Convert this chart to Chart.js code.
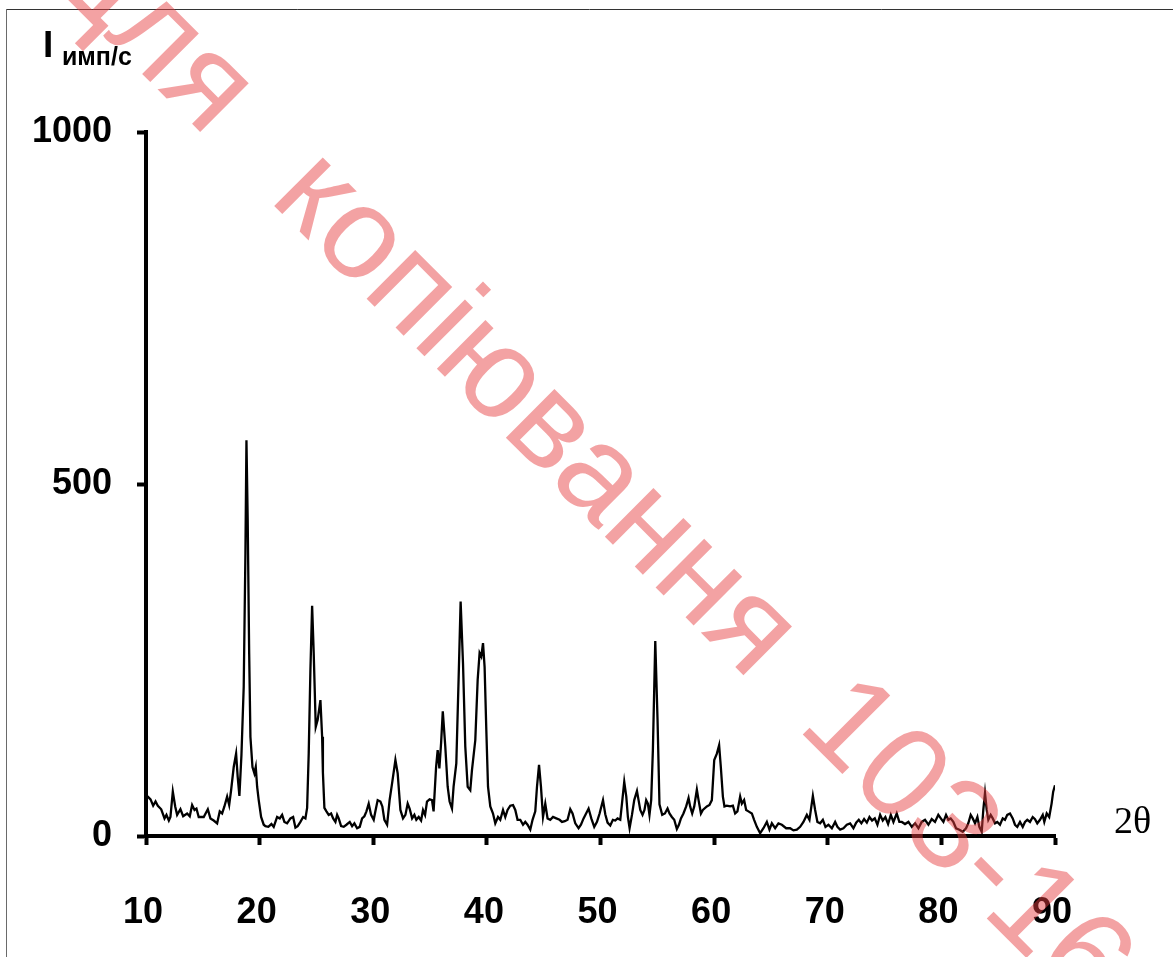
<!DOCTYPE html>
<html>
<head>
<meta charset="utf-8">
<script src="https://cdn.jsdelivr.net/npm/chart.js@4.4.1/dist/chart.umd.min.js"></script>
<style>
  html, body { margin: 0; padding: 0; background: #fff; }
  #wrap { width: 1173px; height: 957px; position: relative; }
</style>
</head>
<body>
<div id="wrap"><canvas id="xrd" width="1173" height="957"></canvas></div>
<script>
// Diffraction angle 2θ, degrees
const twoTheta = [
  10.00, 10.16, 10.40, 10.63, 10.84, 11.04, 11.34, 11.63, 11.80, 12.01, 12.15, 12.36, 12.57, 12.74, 13.03, 13.27,
  13.62, 13.85, 14.06, 14.27, 14.44, 14.64, 15.08, 15.44, 15.67, 15.96, 16.26, 16.49, 16.70, 16.90, 17.14, 17.32,
  17.49, 17.72, 17.93, 18.07, 18.22, 18.40, 18.60, 18.75, 18.84, 18.95, 19.08, 19.19, 19.37, 19.54, 19.66, 19.78,
  19.92, 20.13, 20.36, 20.51, 20.77, 21.04, 21.24, 21.54, 21.77, 21.98, 22.18, 22.42, 22.71, 22.95, 23.15, 23.35,
  23.59, 23.83, 24.03, 24.18, 24.32, 24.47, 24.62, 24.76, 24.94, 25.11, 25.35, 25.50, 25.57, 25.70, 25.88, 26.08,
  26.29, 26.47, 26.67, 26.82, 26.96, 27.17, 27.40, 27.64, 27.93, 28.14, 28.34, 28.58, 28.81, 29.02, 29.22, 29.40,
  29.60, 29.81, 30.04, 30.21, 30.39, 30.63, 30.80, 30.98, 31.22, 31.44, 31.66, 31.95, 32.15, 32.39, 32.62, 32.83,
  33.03, 33.20, 33.42, 33.62, 33.79, 34.00, 34.21, 34.38, 34.56, 34.73, 34.96, 35.17, 35.31, 35.53, 35.67, 35.82,
  35.97, 36.12, 36.34, 36.55, 36.72, 36.93, 37.07, 37.31, 37.51, 37.69, 37.90, 38.10, 38.31, 38.54, 38.69, 38.98,
  39.19, 39.36, 39.51, 39.66, 39.80, 39.95, 40.10, 40.30, 40.54, 40.74, 40.98, 41.18, 41.42, 41.62, 41.82, 42.06,
  42.30, 42.50, 42.70, 42.94, 43.18, 43.38, 43.58, 43.82, 44.02, 44.26, 44.41, 44.59, 44.76, 44.94, 45.14, 45.34,
  45.58, 45.82, 46.11, 46.40, 46.61, 46.86, 47.10, 47.34, 47.54, 47.78, 48.07, 48.28, 48.51, 48.95, 49.19, 49.45,
  49.69, 49.92, 50.22, 50.42, 50.62, 50.86, 51.09, 51.30, 51.50, 51.74, 51.89, 52.09, 52.27, 52.41, 52.56, 52.77,
  52.97, 53.21, 53.35, 53.50, 53.70, 53.87, 54.02, 54.17, 54.31, 54.46, 54.61, 54.82, 55.02, 55.19, 55.43, 55.67,
  55.90, 56.07, 56.28, 56.49, 56.72, 56.90, 57.08, 57.30, 57.54, 57.75, 57.89, 58.07, 58.25, 58.48, 58.63, 58.84,
  59.01, 59.36, 59.59, 59.80, 60.01, 60.24, 60.44, 60.59, 60.77, 60.91, 61.12, 61.41, 61.65, 61.85, 62.05, 62.29,
  62.44, 62.64, 62.82, 63.02, 63.32, 63.52, 63.76, 64.05, 64.34, 64.64, 64.87, 65.08, 65.37, 65.66, 65.96, 66.34,
  66.69, 66.98, 67.28, 67.57, 67.86, 68.16, 68.39, 68.69, 68.89, 69.09, 69.33, 69.57, 69.80, 70.06, 70.36, 70.65,
  70.85, 71.09, 71.38, 71.68, 71.97, 72.26, 72.50, 72.73, 72.96, 73.20, 73.44, 73.67, 73.90, 74.14, 74.37, 74.61,
  74.84, 75.07, 75.31, 75.55, 75.78, 76.07, 76.30, 76.52, 76.80, 77.10, 77.40, 77.69, 77.98, 78.27, 78.56, 78.86,
  79.15, 79.44, 79.73, 79.95, 80.18, 80.41, 80.61, 80.82, 81.05, 81.29, 81.58, 81.88, 82.17, 82.37, 82.58, 82.76,
  82.96, 83.17, 83.34, 83.55, 83.69, 83.84, 83.99, 84.13, 84.34, 84.52, 84.72, 84.92, 85.16, 85.40, 85.60, 85.80,
  86.04, 86.28, 86.48, 86.68, 86.92, 87.16, 87.36, 87.56, 87.80, 88.04, 88.24, 88.44, 88.68, 88.92, 89.06, 89.27,
  89.49, 89.70, 89.84, 90.00
];

// Intensity, counts per second
const intensity = [
  58, 56, 52, 43, 49, 43, 38, 25, 30, 22, 27, 63, 42, 30, 38, 28,
  32, 28, 44, 37, 39, 27, 27, 38, 25, 22, 18, 35, 32, 42, 56, 44,
  65, 98, 117, 84, 57, 115, 212, 402, 562, 449, 260, 141, 98, 89, 98, 70,
  51, 27, 16, 14, 13, 17, 13, 27, 25, 30, 20, 18, 25, 27, 12, 14,
  20, 27, 25, 40, 117, 236, 327, 260, 155, 165, 193, 141, 90, 40, 35, 30,
  32, 25, 20, 30, 25, 14, 13, 16, 20, 14, 18, 11, 13, 25, 28, 35,
  46, 30, 23, 37, 51, 49, 42, 23, 16, 51, 75, 108, 89, 37, 25, 30,
  46, 39, 25, 30, 23, 27, 22, 37, 30, 49, 52, 51, 35, 98, 122, 96,
  132, 177, 127, 70, 49, 39, 70, 103, 222, 333, 245, 127, 70, 65, 94, 136,
  222, 260, 255, 274, 240, 151, 70, 42, 32, 18, 27, 23, 37, 27, 37, 43,
  44, 37, 23, 23, 16, 20, 16, 9, 23, 35, 70, 101, 70, 27, 46, 25,
  23, 27, 25, 23, 20, 21, 23, 38, 32, 18, 11, 16, 25, 39, 25, 13,
  20, 32, 51, 31, 19, 15, 23, 22, 25, 23, 46, 77, 56, 27, 11, 30,
  51, 64, 51, 37, 30, 37, 51, 46, 30, 51, 122, 277, 165, 45, 30, 32,
  39, 32, 27, 23, 10, 16, 25, 32, 42, 54, 42, 32, 42, 66, 51, 32,
  37, 42, 44, 51, 108, 117, 129, 98, 56, 42, 43, 42, 43, 32, 35, 56,
  46, 51, 37, 35, 32, 23, 13, 4, 11, 20, 9, 18, 11, 18, 16, 11,
  11, 8, 9, 13, 20, 30, 23, 57, 37, 20, 18, 23, 13, 16, 11, 20,
  13, 9, 11, 16, 18, 11, 19, 23, 18, 24, 19, 27, 22, 25, 16, 30,
  22, 27, 17, 30, 20, 32, 20, 20, 17, 20, 13, 18, 11, 20, 23, 16,
  24, 20, 30, 25, 20, 30, 23, 25, 20, 11, 9, 6, 11, 18, 30, 25,
  18, 27, 13, 6, 37, 61, 37, 23, 30, 25, 18, 20, 16, 25, 23, 30,
  32, 25, 16, 13, 20, 13, 20, 23, 20, 27, 24, 18, 23, 30, 20, 32,
  27, 46, 63, 72
];

// Axis ticks
const xTickValues = [10, 20, 30, 40, 50, 60, 70, 80, 90];
const yTickValues = [0, 500, 1000];

// Axis captions and the three parts of the diagonal stamp
const yCaptionMain = 'I';
const yCaptionSub = 'имп/с';
const xCaption = '2θ';
const stampParts = ['Для', 'копіювання', '103-16'];

const SANS = '"Liberation Sans", Arial, Helvetica, sans-serif';
const SERIF = '"Liberation Serif", "Times New Roman", serif';

// Thin page frame along the top and left edges
const framePlugin = {
  id: 'frame',
  beforeDraw(chart) {
    const c = chart.ctx;
    c.save();
    c.fillStyle = '#fff';
    c.fillRect(0, 0, chart.width, chart.height);
    c.lineWidth = 1;
    c.strokeStyle = '#333';
    c.beginPath(); c.moveTo(6, 9.5); c.lineTo(chart.width, 9.5); c.stroke();
    c.strokeStyle = '#6a6a6a';
    c.beginPath(); c.moveTo(6.5, 9); c.lineTo(6.5, chart.height); c.stroke();
    c.restore();
  }
};

// Axis captions: "I" with subscript units at top-left, "2θ" at the end of the x axis
const captionPlugin = {
  id: 'captions',
  afterDraw(chart) {
    const c = chart.ctx;
    const area = chart.chartArea;
    c.save();
    c.fillStyle = '#000';
    c.textBaseline = 'alphabetic';
    c.textAlign = 'left';
    c.font = 'bold 37px ' + SANS;
    c.fillText(yCaptionMain, 43, 57);
    c.font = 'bold 25px ' + SANS;
    c.fillText(yCaptionSub, 62, 65);
    c.font = '38px ' + SERIF;
    c.fillText(xCaption, area.right + 59, area.bottom - 3);
    c.restore();
  }
};

// Semi-transparent diagonal stamp over the plot, words set with wide gaps
const stampPlugin = {
  id: 'stamp',
  afterDraw(chart) {
    const c = chart.ctx;
    const size = 130;
    const angle = 45 * Math.PI / 180;
    const gapBefore = 0.67 * size;
    const gapAfter = 0.5 * size;
    c.save();
    c.font = size + 'px ' + SANS;
    c.fillStyle = 'rgba(230, 60, 62, 0.48)';
    c.textBaseline = 'alphabetic';
    c.textAlign = 'left';
    const w0 = c.measureText(stampParts[0]).width;
    const w1 = c.measureText(stampParts[1]).width;
    const kHalf = c.measureText('к').width / 2;
    c.translate(312, 196);
    c.rotate(angle);
    const base = 0.26 * size;
    c.fillText(stampParts[0], -kHalf - gapBefore - w0, base);
    c.fillText(stampParts[1], -kHalf, base);
    c.fillText(stampParts[2], -kHalf + w1 + gapAfter, base);
    c.restore();
  }
};

const points = twoTheta.map((t, i) => ({ x: t, y: intensity[i] }));

new Chart(document.getElementById('xrd'), {
  type: 'line',
  data: {
    datasets: [{
      data: points,
      borderColor: '#000',
      borderWidth: 2.3,
      pointRadius: 0,
      tension: 0,
      fill: false
    }]
  },
  options: {
    responsive: false,
    animation: false,
    devicePixelRatio: 1,
    layout: { padding: { left: 0, top: 132, right: 118, bottom: 0 } },
    plugins: { legend: { display: false }, tooltip: { enabled: false } },
    scales: {
      x: {
        type: 'linear',
        min: 10,
        max: 90,
        afterBuildTicks(scale) { scale.ticks = xTickValues.map(v => ({ value: v })); },
        afterFit(scale) { scale.height = 121; },
        grid: { drawOnChartArea: false, drawTicks: true, tickLength: 9, tickWidth: 4, tickColor: '#000' },
        border: { display: true, color: '#000', width: 4 },
        ticks: {
          color: '#000',
          font: { family: SANS, size: 36, weight: 'bold' },
          padding: 46,
          labelOffset: -3,
          maxRotation: 0,
          autoSkip: false,
          callback: v => String(v)
        }
      },
      y: {
        type: 'linear',
        min: 0,
        max: 1000,
        afterBuildTicks(scale) { scale.ticks = yTickValues.map(v => ({ value: v })); },
        afterFit(scale) { scale.width = 146; },
        grid: { drawOnChartArea: false, drawTicks: true, tickLength: 9, tickWidth: 4, tickColor: '#000' },
        border: { display: true, color: '#000', width: 4 },
        ticks: {
          color: '#000',
          font: { family: SANS, size: 36, weight: 'bold' },
          padding: 25,
          autoSkip: false,
          callback: v => String(v)
        }
      }
    }
  },
  plugins: [framePlugin, captionPlugin, stampPlugin]
});
</script>
</body>
</html>
